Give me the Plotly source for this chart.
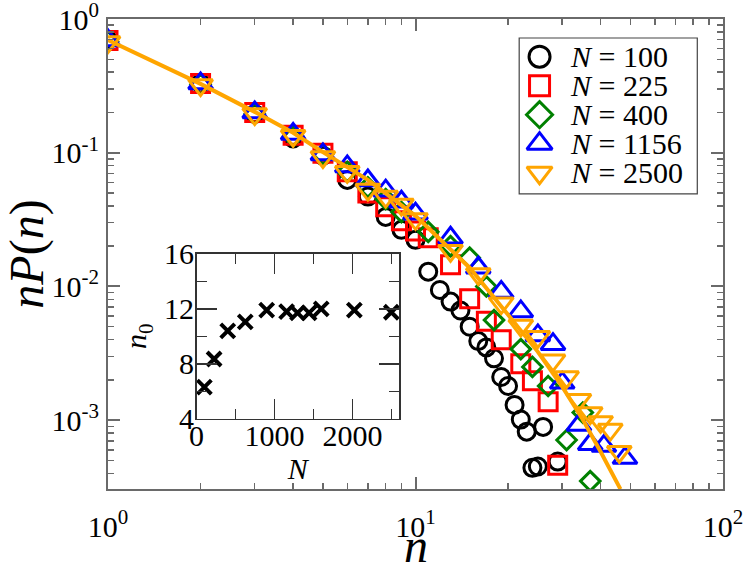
import plotly.graph_objects as go

# main panel: nP(n) against n for each system size N
n_100 = [1, 2, 3, 4, 5, 6, 7, 8, 9, 10, 11, 12, 13, 14, 15, 16, 17, 18, 19, 20, 21, 22, 23, 24, 25, 26, 29]
p_100 = [0.70, 0.33, 0.195, 0.128, 0.095, 0.0626, 0.047, 0.0331, 0.0265, 0.0223, 0.0129, 0.0094,
         0.0077, 0.0066, 0.0050, 0.0039, 0.0035, 0.0029, 0.0021, 0.0018, 0.0013, 0.00101,
         0.00082, 0.00044, 0.00045, 0.00089, 0.00049]

n_225 = [1, 2, 3, 4, 5, 6, 7, 8, 9, 10, 11, 13, 15, 17, 19, 22, 24, 27, 29]
p_225 = [0.69, 0.33, 0.20, 0.135, 0.099, 0.072, 0.050, 0.0394, 0.031, 0.026, 0.0231, 0.0145,
         0.0081, 0.0055, 0.0040, 0.00264, 0.00197, 0.00137, 0.00046]

n_400 = [1, 2, 3, 4, 5, 6, 7, 8, 9, 11, 13, 15, 17, 18, 22, 24, 27, 31, 35, 37]
p_400 = [0.68, 0.325, 0.195, 0.133, 0.097, 0.072, 0.055, 0.045, 0.036, 0.0256, 0.020, 0.0164,
         0.0100, 0.0056, 0.0034, 0.0025, 0.0018, 0.00071, 0.00114, 0.00035]

n_1156 = [1, 2, 3, 4, 5, 6, 7, 8, 9, 10, 13, 16, 19, 22, 25, 28, 30, 34, 37, 41, 48]
p_1156 = [0.69, 0.33, 0.20, 0.138, 0.097, 0.079, 0.062, 0.052, 0.043, 0.035, 0.0231, 0.0138,
          0.0091, 0.0065, 0.0043, 0.0037, 0.0019, 0.00092, 0.00066, 0.00064, 0.00052]

n_2500 = [1, 2, 3, 4, 5, 6, 7, 8, 9, 10, 13, 16, 19, 22, 25, 28, 31, 34, 37, 40, 43, 46]
p_2500 = [0.673, 0.321, 0.195, 0.134, 0.093, 0.072, 0.053, 0.047, 0.041, 0.032, 0.0185, 0.0124,
          0.0075, 0.0051, 0.0042, 0.0028, 0.0021, 0.00142, 0.00113, 0.00097, 0.00085, 0.00058]

# fitted curve (orange line)
fit_n = [1, 2, 3, 4, 5, 7, 10, 15, 20, 25, 30, 35, 40, 46.4]
fit_p = [0.697, 0.327, 0.202, 0.141, 0.101, 0.0627, 0.0337, 0.0138, 0.00614, 0.00324,
         0.00178, 0.00101, 0.00058, 0.000305]

# inset: n0 against N
inset_N = [100, 225, 400, 625, 900, 1156, 1296, 1444, 1600, 2025, 2500]
inset_n0 = [6.3, 8.35, 10.4, 11.05, 11.9, 11.8, 11.7, 11.7, 12.0, 11.9, 11.75]

labels = ["100", "225", "400", "1156", "2500"]
colors = ["black", "#ff0000", "#008000", "#0000ff", "#ffa500"]
symbols = ["circle-open", "square-open", "diamond-open", "triangle-up-open", "triangle-down-open"]
msizes = [17, 18, 15, 21, 21]
legend_sizes = [21, 20, 20, 22, 22]

FONT = "Liberation Serif"
AX = "#6a6a6a"

fig = go.Figure()
for xs, ys, col, sym, sz in zip([n_100, n_225, n_400, n_1156, n_2500],
                                [p_100, p_225, p_400, p_1156, p_2500],
                                colors, symbols, msizes):
    fig.add_trace(go.Scatter(
        x=xs, y=ys, mode="markers", showlegend=False,
        marker=dict(symbol=sym, size=sz, color=col, opacity=1, line=dict(width=3, color=col)),
    ))
fig.add_trace(go.Scatter(x=fit_n, y=fit_p, mode="lines", showlegend=False,
                         line=dict(color="#ffa500", width=4)))

fig.add_trace(go.Scatter(
    x=inset_N, y=inset_n0, mode="markers", xaxis="x2", yaxis="y2", showlegend=False,
    marker=dict(symbol="x-thin", size=14, color="black", line=dict(width=4, color="black")),
))

# hand-made legend box (top right)
row_top, row_gap = 0.9198, 0.0617
rows = [row_top - i * row_gap for i in range(len(labels))]
fig.add_trace(go.Scatter(
    x=[0.7017] * len(labels), y=rows, xaxis="x3", yaxis="y3", mode="markers", showlegend=False,
    marker=dict(symbol=symbols, size=legend_sizes, color=colors, opacity=1,
                line=dict(width=3, color=colors)),
))
for lab, yy in zip(labels, rows):
    fig.add_annotation(x=0.7483, y=yy, xref="paper", yref="paper", xanchor="left", yanchor="middle",
                       text=f"<i>N</i> = {lab}", showarrow=False,
                       font=dict(family=FONT, size=30, color="black"))
fig.add_shape(type="rect", xref="paper", yref="paper", x0=0.6686, x1=0.9582, y0=0.6279, y1=0.9596,
              line=dict(color="#444", width=1.2), layer="below")

# x-axis title as an annotation: the axis title cannot sit this far into the margin
fig.add_annotation(x=0.5, y=-0.121, xref="paper", yref="paper", xanchor="center", yanchor="middle",
                   text="<i>n</i>", showarrow=False, font=dict(family=FONT, size=48, color="black"))

x_minor = [k * 10 ** e for e in range(0, 2) for k in range(2, 10)]
y_minor = [k * 10 ** e for e in range(-4, 0) for k in range(2, 10) if k * 10 ** e > 3.05e-4]

fig.update_layout(
    template="none",
    width=747, height=562,
    margin=dict(l=108, r=24, t=19, b=73),
    paper_bgcolor="white", plot_bgcolor="white",
    font=dict(family=FONT, color="black"),
    xaxis=dict(
        type="log", range=[0, 2], tickmode="array", tickvals=[1, 10, 100],
        ticktext=["10<sup>0</sup>", "10<sup>1</sup>", "10<sup>2</sup>"],
        ticks="inside", ticklen=12, tickwidth=2, tickcolor=AX, automargin=False,
        minor=dict(tickmode="array", tickvals=x_minor, ticks="inside", ticklen=6, tickwidth=1.5, tickcolor=AX),
        showline=True, linecolor=AX, linewidth=2, mirror="allticks", showgrid=False, zeroline=False,
        tickfont=dict(size=30), ticklabelstandoff=10, ticklabeloverflow="allow",
    ),
    yaxis=dict(
        type="log", range=[-3.515, 0], tickmode="array", tickvals=[1e-3, 1e-2, 1e-1, 1],
        ticktext=["10<sup>-3</sup>", "10<sup>-2</sup>", "10<sup>-1</sup>", "10<sup>0</sup>"],
        ticks="inside", ticklen=12, tickwidth=2, tickcolor=AX, automargin=False,
        minor=dict(tickmode="array", tickvals=y_minor, ticks="inside", ticklen=6, tickwidth=1.5, tickcolor=AX),
        showline=True, linecolor=AX, linewidth=2, mirror="allticks", showgrid=False, zeroline=False,
        tickfont=dict(size=30), ticklabelstandoff=1, ticklabeloverflow="allow",
        title=dict(text="<i>nP</i>(<i>n</i>)", font=dict(size=48), standoff=18),
    ),
    xaxis2=dict(
        domain=[0.144, 0.4734], anchor="y2", range=[0, 2600], tickmode="array", tickvals=[0, 1000, 2000],
        ticks="inside", ticklen=20, tickwidth=1.5, tickcolor="#333", automargin=False,
        minor=dict(tickmode="array", tickvals=[500, 1500, 2500], ticks="inside", ticklen=10, tickwidth=1.5, tickcolor="#333"),
        showline=True, linecolor="#333", linewidth=1.5, mirror="allticks", showgrid=False, zeroline=False,
        tickfont=dict(size=30), ticklabelstandoff=-10, ticklabeloverflow="allow",
        title=dict(text="<i>N</i>", font=dict(size=30), standoff=0),
    ),
    yaxis2=dict(
        domain=[0.1495, 0.5003], anchor="x2", range=[4, 16], tickmode="array", tickvals=[4, 8, 12, 16],
        ticks="inside", ticklen=20, tickwidth=1.5, tickcolor="#333", automargin=False,
        minor=dict(tickmode="array", tickvals=[6, 10, 14], ticks="inside", ticklen=10, tickwidth=1.5, tickcolor="#333"),
        showline=True, linecolor="#333", linewidth=1.5, mirror="allticks", showgrid=False, zeroline=False,
        tickfont=dict(size=30), ticklabelstandoff=-5, ticklabeloverflow="allow",
        title=dict(text="<i>n</i><sub>0</sub>", font=dict(size=30), standoff=8),
    ),
    xaxis3=dict(overlaying="x", anchor="y3", range=[0, 1], visible=False),
    yaxis3=dict(overlaying="y", anchor="x3", range=[0, 1], visible=False),
)

# the page body has a default 8px margin; drop it so the figure sits at the window corner
fig.write_html("out.html", config={"staticPlot": True},
               post_script="document.body.style.margin='0';")
